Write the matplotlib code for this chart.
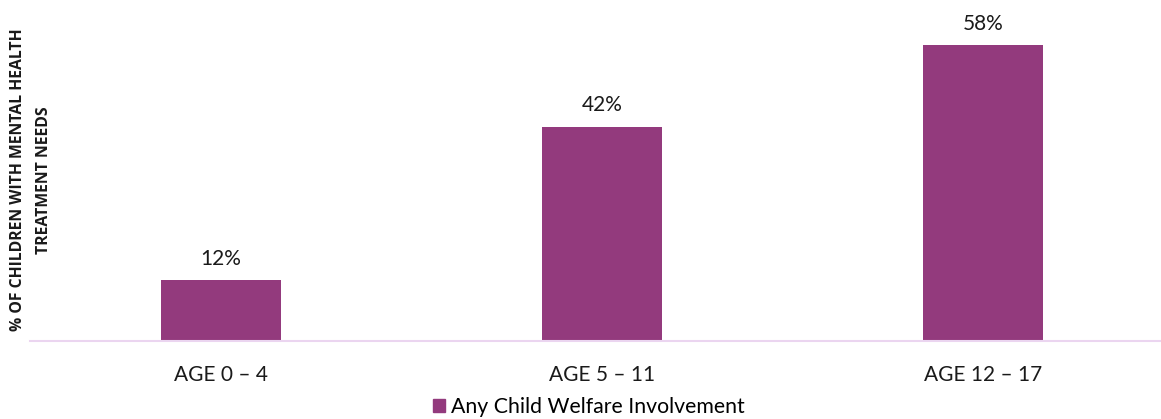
import matplotlib.pyplot as plt
from matplotlib.patches import Patch

plt.rcParams['font.family'] = ['Lato', 'DejaVu Sans']

categories = ['AGE 0 – 4', 'AGE 5 – 11', 'AGE 12 – 17']
values = [12, 42, 58]
series_name = 'Any Child Welfare Involvement'
bar_color = '#933A7D'

fig = plt.figure(figsize=(11.61, 4.19), dpi=100)
W, H = 1161, 419
ax = fig.add_axes([30 / W, (H - 341) / H, (W - 30) / W, 341 / H])

x = list(range(len(categories)))
bars = ax.bar(x, values, width=0.315, color=bar_color)
for b, v in zip(bars, values):
    ax.annotate(f'{v}%', (b.get_x() + b.get_width() / 2, v),
                xytext=(0, 8), textcoords='offset points',
                ha='center', va='bottom', fontsize=15, color='#1a1a1a')

ax.set_xlim(-0.5, 2.466)
ax.set_ylim(0, 66.8)
ax.set_xticks(x)
ax.set_xticklabels(categories, fontsize=15, color='#1a1a1a')
ax.tick_params(axis='x', length=0, pad=17)
ax.set_yticks([])
for s in ['top', 'right', 'left']:
    ax.spines[s].set_visible(False)
ax.spines['bottom'].set_color('#EBD5F0')
ax.spines['bottom'].set_linewidth(1.5)

fig.text(31 / W, 0.57, '% OF CHILDREN WITH MENTAL HEALTH\nTREATMENT NEEDS',
         rotation=90, ha='center', va='center', fontsize=11.3,
         family=['Open Sans', 'DejaVu Sans'], fontweight='bold',
         linespacing=1.85, color='#1a1a1a', multialignment='center')

fig.legend(handles=[Patch(color=bar_color, label=series_name)],
           loc='center', bbox_to_anchor=(589 / W, 1 - 407 / H), frameon=False,
           fontsize=15.3, handlelength=0.55, handleheight=0.55, handletextpad=0.3)

fig.savefig('out.png', dpi=100)
